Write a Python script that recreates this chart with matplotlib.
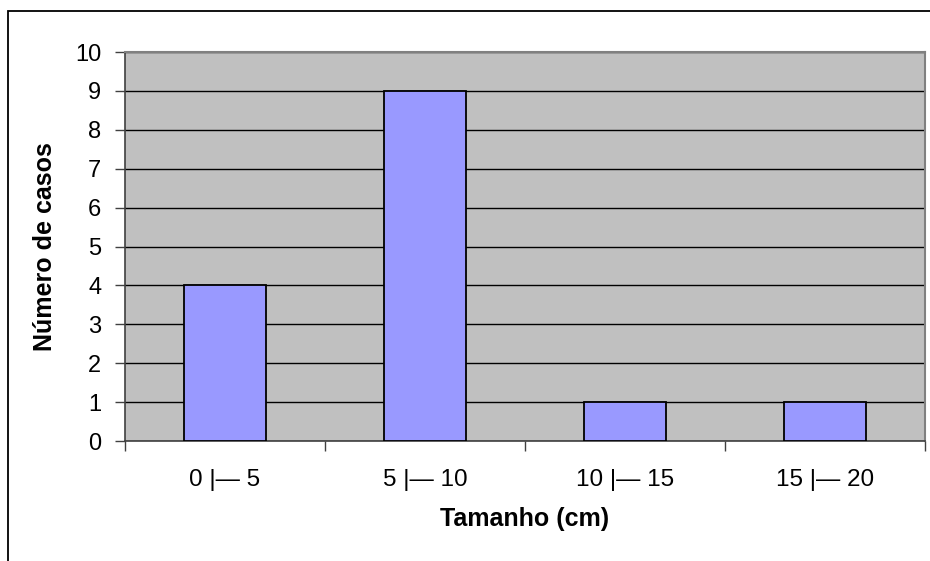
import matplotlib.pyplot as plt
from matplotlib.patches import Rectangle

plt.rcParams['font.family'] = ['Liberation Sans', 'DejaVu Sans']

classes = ['0 |— 5', '5 |— 10', '10 |— 15', '15 |— 20']
casos = [4, 9, 1, 1]
yticks = list(range(0, 11))

fig = plt.figure(figsize=(9.3, 5.61), dpi=100)
ax = fig.add_axes([0.1344, 0.2139, 0.8602, 0.6934])

# outer frame of the chart object (only left and top edges show)
fig.patches.append(Rectangle((8 / 930, -0.1), 1.2, 0.1 + (561 - 11) / 561,
                             transform=fig.transFigure, fill=False,
                             edgecolor='black', linewidth=1.3, zorder=0))

ax.set_facecolor('#C0C0C0')
pos = list(range(len(classes)))
ax.bar(pos, casos, width=0.41, color='#9999FF', edgecolor='black',
       linewidth=1.3, zorder=3)

ax.set_xlim(-0.5, len(classes) - 0.5)
ax.set_ylim(0, 10)
ax.set_yticks(yticks)
ax.yaxis.grid(True, color='black', linewidth=1.0, zorder=1)
ax.set_axisbelow(True)

# category labels centred, tick marks on the category boundaries
ax.set_xticks(pos)
ax.set_xticklabels(classes)
ax.tick_params(axis='x', length=0, pad=20, labelsize=17.5)
ax.set_xticks([p - 0.5 for p in pos] + [len(classes) - 0.5], minor=True)
ax.tick_params(axis='x', which='minor', length=7, width=1, color='#404040')
ax.tick_params(axis='y', length=7, width=1, pad=10, labelsize=17,
               color='#404040')

for side in ['left', 'bottom']:
    ax.spines[side].set_color('#404040')
    ax.spines[side].set_linewidth(1.2)
for side in ['top', 'right']:
    ax.spines[side].set_color('#808080')
    ax.spines[side].set_linewidth(1.5)

ax.set_xlabel('Tamanho (cm)', fontsize=18, fontweight='bold', labelpad=12)
ax.set_ylabel('Número de casos', fontsize=18, fontweight='bold', labelpad=13)

fig.savefig('out.png', dpi=100)
